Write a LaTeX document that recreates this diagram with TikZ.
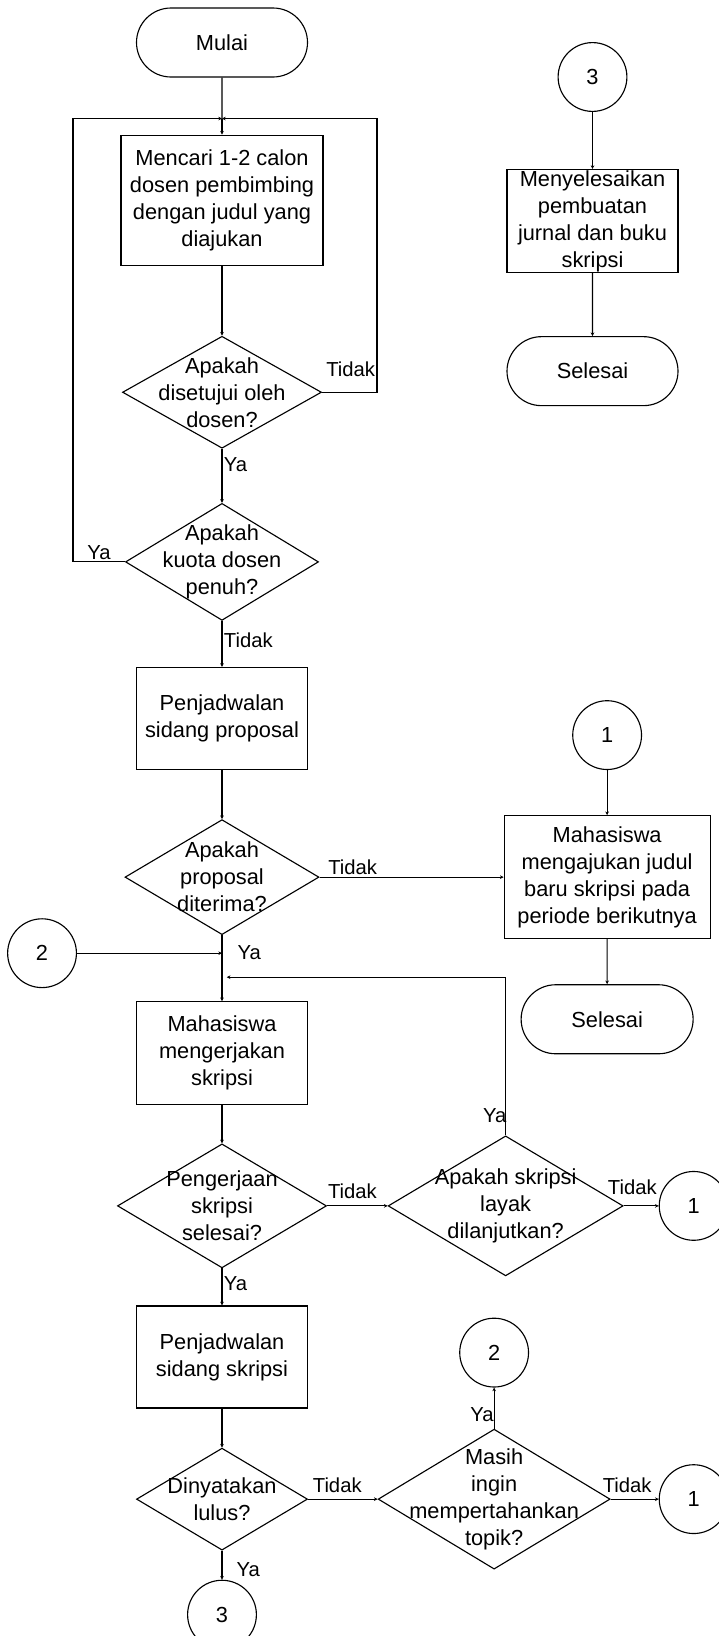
\documentclass[tikz,border=0pt]{standalone}
\usepackage{fontspec}
\setmainfont{Liberation Sans}
\usepackage{tikz}
\usetikzlibrary{shapes.geometric, shapes.misc, arrows.meta, positioning}

\begin{document}
\begin{tikzpicture}[
    font=\fontsize{15.5}{19.2}\selectfont,
    terminal/.style={rounded rectangle, draw, thick, minimum width=4.275cm, minimum height=1.725cm, inner sep=0pt},
    process/.style={rectangle, draw, thick, minimum width=4.275cm, minimum height=2.55cm, inner sep=0pt, align=center},
    decision/.style={diamond, draw, thick, inner sep=0pt},
    connector/.style={circle, draw, thick, minimum size=1.72cm, inner sep=0pt},
    lbl/.style={font=\fontsize{14.4}{17}\selectfont, inner sep=1pt},
    arrow/.style={-{Stealth[length=2.6pt, width=2.6pt]}, thick}
]
\useasboundingbox (0,0) rectangle (17.95,-40.9);

\node[terminal] (mulai) at (5.55,-1.0625) {Mulai};
\coordinate[below=1.025cm of mulai] (gabung);
\node[process, minimum width=5.05cm, minimum height=3.25cm, below=0.4cm of gabung] (mencari) {Mencari 1-2 calon\\dosen pembimbing\\dengan judul yang\\diajukan};
\node[decision, minimum width=4.975cm, minimum height=2.8cm, below=1.75cm of mencari, label={[align=center]center:Apakah\\disetujui oleh\\dosen?}] (setuju) {};
\node[decision, minimum width=4.825cm, minimum height=2.925cm, below=1.35cm of setuju, label={[align=center]center:Apakah\\kuota dosen\\penuh?}] (kuota) {};
\node[process, below=1.15cm of kuota] (jadwalprop) {Penjadwalan\\sidang proposal};
\node[decision, minimum width=4.85cm, minimum height=2.875cm, below=1.225cm of jadwalprop, label={[align=center]center:Apakah\\proposal\\diterima?}] (terima) {};
\coordinate[below=0.45cm of terima] (gabungdua);
\coordinate[below=0.6cm of gabungdua] (gabungtiga);
\node[process, minimum height=2.575cm, below=0.6cm of gabungtiga] (kerjakan) {Mahasiswa\\mengerjakan\\skripsi};
\node[decision, minimum width=5.225cm, minimum height=3.1cm, below=0.95cm of kerjakan, label={[align=center]center:Pengerjaan\\skripsi\\selesai?}] (rampung) {};
\node[process, below=0.925cm of rampung] (jadwalsidang) {Penjadwalan\\sidang skripsi};
\node[decision, minimum width=4.275cm, minimum height=2.55cm, below=0.975cm of jadwalsidang, label={[align=center]center:Dinyatakan\\lulus?}] (lulus) {};
\node[connector, below=0.725cm of lulus] (tigab) {3};

\node[connector, left=3.625cm of gabungdua] (duaa) {2};
\node[decision, minimum width=5.875cm, minimum height=3.5cm, right=1.5125cm of rampung, label={[align=center]center:Apakah skripsi\\layak\\dilanjutkan?}] (layak) {};
\node[connector, right=0.875cm of layak] (satub) {1};
\node[decision, minimum width=5.8cm, minimum height=3.5cm, right=1.7375cm of lulus, label={[align=center]center:Masih\\ingin\\mempertahankan\\topik?}] (pertahankan) {};
\node[connector, right=1.2cm of pertahankan] (satuc) {1};
\node[connector, above=1.025cm of pertahankan] (duab) {2};

\node[process, minimum width=5.15cm, minimum height=3.075cm, right=4.6cm of terima] (judulbaru) {Mahasiswa\\mengajukan judul\\baru skripsi pada\\periode berikutnya};
\node[connector, above=1.125cm of judulbaru] (satua) {1};
\node[terminal, minimum width=4.3cm, below=1.125cm of judulbaru] (selesaib) {Selesai};

\node[connector] (tigaa) at (14.8125,-1.925) {3};
\node[process, minimum height=2.575cm, below=1.425cm of tigaa] (susun) {Menyelesaikan\\pembuatan\\jurnal dan buku\\skripsi};
\node[terminal, below=1.575cm of susun] (selesaia) {Selesai};

\coordinate (kiri) at (1.825,0);
\coordinate (kanan) at (9.425,0);

\draw[thick] (mulai) -- (gabung);
\draw[arrow] (gabung) -- (mencari);
\draw[arrow] (mencari) -- (setuju);
\draw[arrow] (setuju) -- node[lbl, pos=0.3, right] {Ya} (kuota);
\draw[arrow] (setuju.east) -- node[lbl, pos=1, above left, yshift=0.34cm] {Tidak} (setuju.east -| kanan) |- (gabung);
\draw[arrow] (kuota.west) -- node[lbl, above] {Ya} (kuota.west -| kiri) |- (gabung);
\draw[arrow] (kuota) -- node[lbl, pos=0.42, right] {Tidak} (jadwalprop);
\draw[arrow] (jadwalprop) -- (terima);
\draw[arrow] (terima) -- node[lbl, pos=0.18, above] {Tidak} (judulbaru);
\draw[arrow] (terima) -- node[lbl, pos=0.27, right, xshift=0.34cm] {Ya} (kerjakan);
\draw[arrow] (duaa) -- (gabungdua);
\draw[arrow, shorten >=0.12cm] (layak.north) -- node[lbl, pos=0.125, left, xshift=0.07cm] {Ya} (layak.north |- gabungtiga) -- (gabungtiga);
\draw[arrow] (kerjakan) -- (rampung);
\draw[arrow] (rampung) -- node[lbl, pos=0.4, right] {Ya} (jadwalsidang);
\draw[arrow] (rampung) -- node[lbl, pos=0.42, above, yshift=0.14cm] {Tidak} (layak);
\draw[arrow] (layak) -- node[lbl, pos=1, above left, yshift=0.24cm] {Tidak} (satub);
\draw[arrow] (jadwalsidang) -- (lulus);
\draw[arrow] (lulus) -- node[lbl, pos=0.65, right, xshift=0.315cm] {Ya} (tigab);
\draw[arrow] (lulus) -- node[lbl, pos=0.42, above, yshift=0.115cm] {Tidak} (pertahankan);
\draw[arrow] (pertahankan) -- node[lbl, pos=1, above left, xshift=-0.13cm, yshift=0.115cm] {Tidak} (satuc);
\draw[arrow] (pertahankan) -- node[lbl, pos=0.34, left, xshift=0.035cm] {Ya} (duab);

\draw[arrow] (tigaa) -- (susun);
\draw[arrow] (susun) -- (selesaia);
\draw[arrow] (satua) -- (judulbaru);
\draw[arrow] (judulbaru) -- (selesaib);

\end{tikzpicture}
\end{document}
